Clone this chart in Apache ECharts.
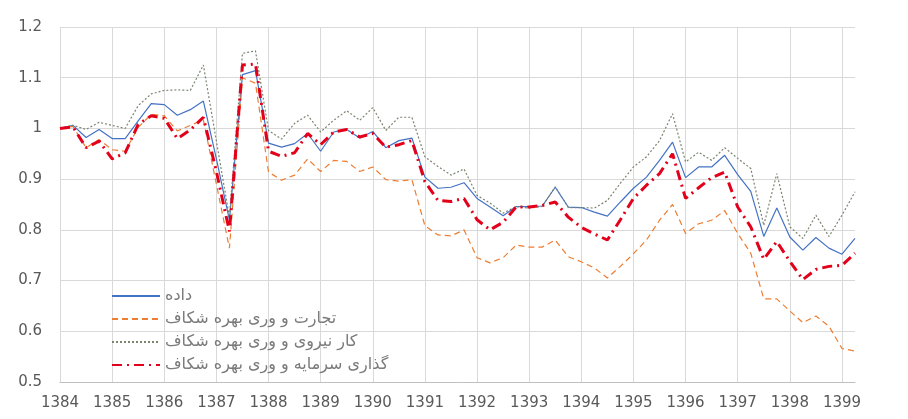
<!DOCTYPE html>
<html>
<head>
<meta charset="utf-8">
<script src="https://cdn.jsdelivr.net/npm/echarts@6/dist/echarts.min.js"></script>
<style>
  html, body { margin: 0; padding: 0; background: #fff; }
  #chart { width: 908px; height: 419px; }
</style>
</head>
<body>
<div id="chart"></div>
<script>
// tick labels on the x axis (one per year, data is quarterly)
const years = ['1384', '1385', '1386', '1387', '1388', '1389', '1390', '1391',
  '1392', '1393', '1394', '1395', '1396', '1397', '1398', '1399'];
const quartersInLastYear = 2;

const names = [
  'داده',
  'شکاف بهره وری و تجارت',
  'شکاف بهره وری و نیروی کار',
  'شکاف بهره وری و سرمایه گذاری'
];

const dade = [
  1.000, 1.006, 0.982, 0.998, 0.980, 0.980, 1.015, 1.049, 1.047, 1.026,
  1.037, 1.054, 0.940, 0.819, 1.106, 1.114, 0.971, 0.963, 0.970, 0.990,
  0.955, 0.993, 0.998, 0.981, 0.994, 0.962, 0.976, 0.981, 0.904, 0.882,
  0.884, 0.893, 0.862, 0.845, 0.828, 0.846, 0.846, 0.847, 0.884, 0.845,
  0.844, 0.835, 0.827, 0.855, 0.882, 0.904, 0.937, 0.973, 0.903, 0.924,
  0.924, 0.947, 0.909, 0.876, 0.787, 0.843, 0.786, 0.760, 0.785, 0.764,
  0.752, 0.783
];

const trade = [
  1.000, 1.004, 0.962, 0.978, 0.958, 0.955, 1.002, 1.028, 1.025, 0.995,
  1.006, 1.017, 0.890, 0.764, 1.100, 1.089, 0.914, 0.898, 0.908, 0.940,
  0.915, 0.937, 0.935, 0.915, 0.924, 0.899, 0.896, 0.899, 0.808, 0.790,
  0.788, 0.800, 0.745, 0.735, 0.745, 0.770, 0.766, 0.766, 0.780, 0.747,
  0.737, 0.725, 0.705, 0.728, 0.753, 0.780, 0.819, 0.850, 0.793, 0.812,
  0.819, 0.838, 0.793, 0.754, 0.664, 0.664, 0.640, 0.617, 0.630, 0.610,
  0.566, 0.561
];

const labor = [
  1.000, 1.006, 0.998, 1.012, 1.006, 1.000, 1.045, 1.068, 1.075, 1.076,
  1.075, 1.125, 0.975, 0.825, 1.148, 1.153, 0.996, 0.979, 1.010, 1.026,
  0.993, 1.016, 1.035, 1.016, 1.041, 0.996, 1.022, 1.022, 0.944, 0.925,
  0.908, 0.920, 0.868, 0.853, 0.833, 0.846, 0.843, 0.846, 0.885, 0.844,
  0.844, 0.843, 0.858, 0.892, 0.924, 0.944, 0.976, 1.029, 0.934, 0.953,
  0.937, 0.962, 0.941, 0.921, 0.809, 0.911, 0.806, 0.783, 0.829, 0.787,
  0.829, 0.875
];

const investment = [
  1.000, 1.003, 0.962, 0.975, 0.940, 0.952, 1.008, 1.025, 1.020, 0.980,
  0.997, 1.022, 0.915, 0.797, 1.125, 1.127, 0.955, 0.945, 0.952, 0.990,
  0.968, 0.993, 0.998, 0.983, 0.990, 0.963, 0.968, 0.976, 0.895, 0.858,
  0.856, 0.862, 0.820, 0.800, 0.815, 0.845, 0.845, 0.848, 0.855, 0.825,
  0.805, 0.792, 0.780, 0.820, 0.862, 0.888, 0.911, 0.950, 0.862, 0.883,
  0.903, 0.914, 0.845, 0.806, 0.742, 0.777, 0.738, 0.702, 0.722, 0.728,
  0.730, 0.754
];

// quarterly categories, label shown only on the first quarter of each year
const categories = [];
years.forEach((y, i) => {
  const n = i === years.length - 1 ? quartersInLastYear : 4;
  for (let q = 1; q <= n; q++) categories.push(y + '-' + q);
});

const chart = echarts.init(document.getElementById('chart'));
const labelFont = 'DejaVu Sans';
const gridColor = '#d9d9d9';

chart.setOption({
  animation: false,
  grid: { left: 60, right: 53, top: 27, bottom: 37 },
  legend: {
    data: names,
    orient: 'vertical',
    left: 106,
    top: 283,
    itemWidth: 48,
    itemHeight: 14,
    itemGap: 7,
    itemStyle: { opacity: 0 },
    // the source shows the words left to right, keep that look (LRM between words)
    formatter: name => name.split(' ').join('\u200E \u200E'),
    textStyle: { fontFamily: labelFont, fontSize: 16, lineHeight: 14, color: '#7a7a7a' }
  },
  xAxis: {
    type: 'category',
    data: categories,
    boundaryGap: false,
    axisLine: { lineStyle: { color: '#bfbfbf', width: 1 } },
    axisTick: { show: false },
    axisLabel: {
      interval: 3,
      margin: 14,
      fontFamily: labelFont,
      fontSize: 15,
      color: '#595959',
      formatter: v => v.split('-')[0]
    },
    splitLine: { show: true, interval: 3, lineStyle: { color: gridColor, width: 1 } }
  },
  yAxis: {
    type: 'value',
    min: 0.5,
    max: 1.2,
    interval: 0.1,
    axisLine: { show: false },
    axisTick: { show: false },
    axisLabel: {
      margin: 18,
      fontFamily: labelFont,
      fontSize: 15,
      color: '#595959',
      formatter: v => String(Math.round(v * 10) / 10)
    },
    splitLine: { lineStyle: { color: gridColor, width: 1 } }
  },
  series: [
    {
      name: names[0],
      type: 'line',
      data: dade,
      symbol: 'none',
      color: '#4472c4',
      lineStyle: { width: 1.2 }
    },
    {
      name: names[1],
      type: 'line',
      data: trade,
      symbol: 'none',
      color: '#ed7d31',
      lineStyle: { width: 1.2, type: [6, 4] }
    },
    {
      name: names[2],
      type: 'line',
      data: labor,
      symbol: 'none',
      color: '#7a8570',
      lineStyle: { width: 1.2, type: [2, 2] }
    },
    {
      name: names[3],
      type: 'line',
      data: investment,
      symbol: 'none',
      color: '#e3001b',
      lineStyle: { width: 3, type: [10, 5, 2, 5] }
    }
  ]
});
</script>
</body>
</html>
